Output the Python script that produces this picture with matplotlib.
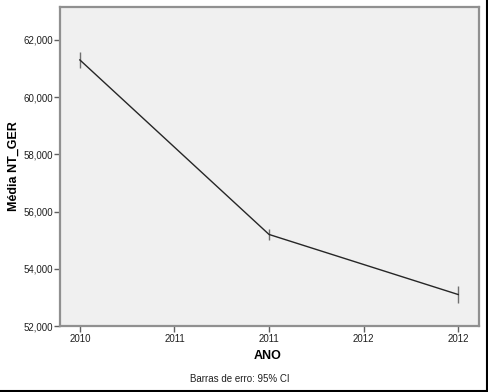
import matplotlib.pyplot as plt
from matplotlib.lines import Line2D

plt.rcParams['font.family'] = ['Liberation Sans', 'DejaVu Sans']

# data
years = [2010, 2011, 2012]
year_pos = [0, 2, 4]
means = [61300, 55200, 53100]
ci_half = [280, 200, 300]
tick_pos = [0, 1, 2, 3, 4]
tick_labels = ['2010', '2011', '2011', '2012', '2012']
y_ticks = [52000, 54000, 56000, 58000, 60000, 62000]

W, H = 488, 392
fig = plt.figure(figsize=(W / 100, H / 100), dpi=100)
ax = fig.add_axes([60 / W, 1 - 326 / H, (479 - 60) / W, (326 - 7) / H])
ax.set_facecolor('#f0f0f0')

ax.plot(year_pos, means, color='#262626', lw=1.0, zorder=3)
ax.errorbar(year_pos, means, yerr=ci_half, fmt='none', ecolor='#707070',
            elinewidth=1.0, capsize=0, zorder=2)

ax.set_xlim(-0.21, 4.22)
ax.set_ylim(52000, 63150)
ax.set_xticks(tick_pos)
ax.set_xticklabels(tick_labels)
ax.set_yticks(y_ticks)
ax.set_yticklabels([f'{v:,}' for v in y_ticks])
ax.tick_params(labelsize=7, length=5, width=1, color='#606060', labelcolor='#202020')
ax.tick_params(axis='x', length=4, pad=2)
ax.tick_params(axis='y', length=4, pad=1)

for s in ax.spines.values():
    s.set_color('#909090')
    s.set_linewidth(1.6)

fig.text(14 / W, 1 - 166 / H, 'Média NT_GER', fontsize=9, fontweight='bold',
         rotation=90, ha='center', va='center')
fig.text(268 / W, 1 - 356 / H, 'ANO', fontsize=9, fontweight='bold', ha='center', va='center')
fig.text(240 / W, 1 - 379 / H, 'Barras de erro: 95% CI', fontsize=7, ha='center', va='center',
         color='#202020')

# outer frame (bottom and right)
fig.add_artist(Line2D([0, 1], [1 - 390.5 / H] * 2, color='black', lw=1.5, transform=fig.transFigure))
fig.add_artist(Line2D([1 - 1.5 / W] * 2, [0, 1], color='black', lw=1.5, transform=fig.transFigure))

fig.savefig('out.png', dpi=100)
